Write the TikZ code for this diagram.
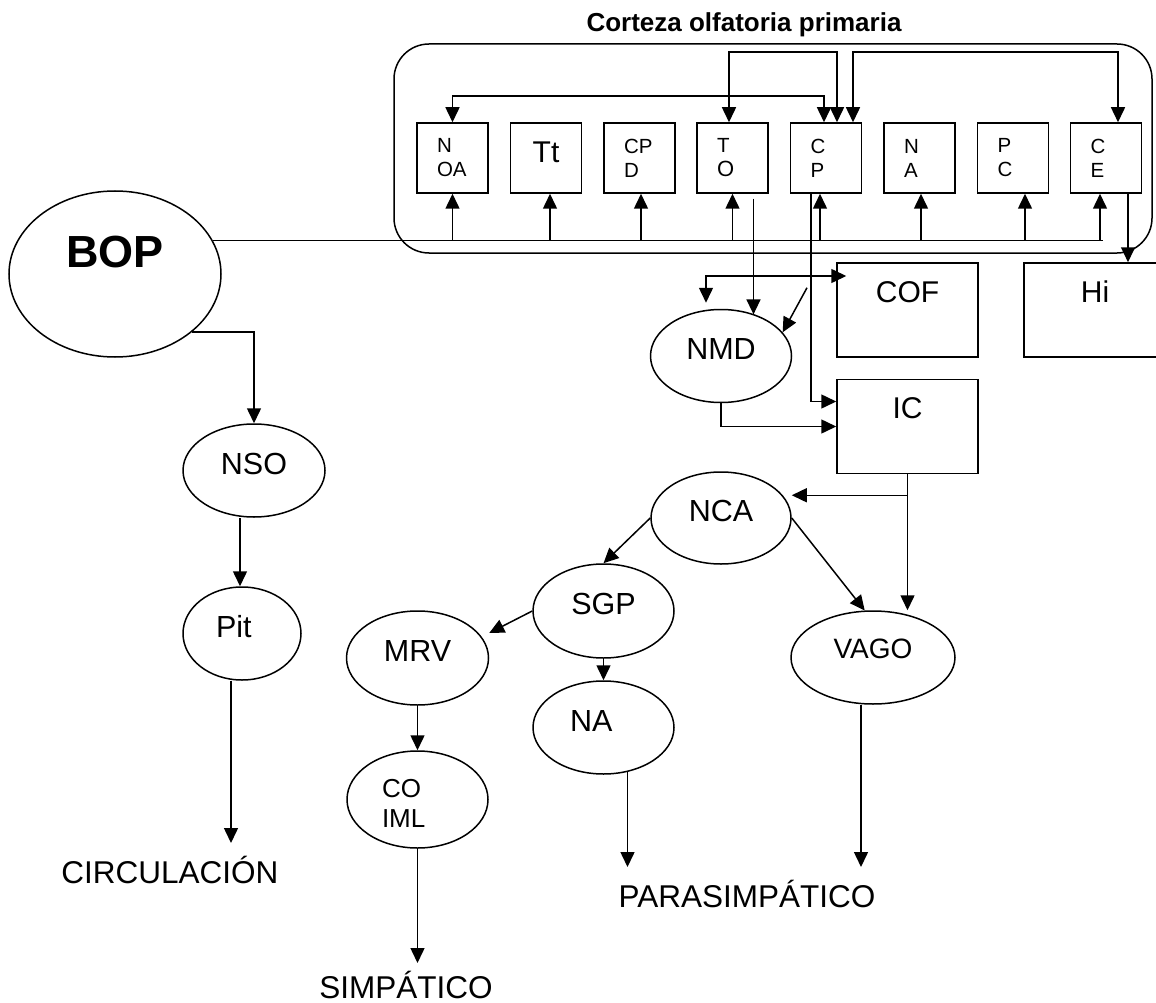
\documentclass[tikz,border=0pt]{standalone}
\usepackage{fontspec}
\setmainfont{Liberation Sans}
\usetikzlibrary{shapes.geometric,arrows.meta}
\tikzset{
  arr/.style={-{Triangle[length=15pt,width=14pt]}},
  dbl/.style={{Triangle[length=15pt,width=14pt]}-{Triangle[length=15pt,width=14pt]}},
  cell/.style={draw,minimum height=70pt,inner ysep=0pt,inner xsep=20pt,text width=31pt,align=left,font=\fontsize{20.5}{24}\selectfont},
  bigbox/.style={draw,minimum width=141pt,inner sep=0pt,text height=39pt,text depth=55pt,font=\fontsize{30}{36}\selectfont},
  oval/.style={draw,ellipse,inner sep=0pt,minimum width=141pt,minimum height=93pt,text height=21.5pt,text depth=14.5pt,font=\fontsize{30.5}{36}\selectfont},
  endlabel/.style={inner sep=0pt,outer ysep=18pt,text height=22pt,text depth=0pt,anchor=base,font=\fontsize{31.5}{38}\selectfont}
}
\begin{document}
\begin{tikzpicture}[x=1pt,y=-1pt,line width=1.5pt]
    \path[use as bounding box] (0,0) rectangle (1156,1003);
    \clip (0,0) rectangle (1156,1003);
    \node[font=\fontsize{26}{31}\selectfont\bfseries,anchor=base] (title) at (744,32) {Corteza olfatoria primaria};
    \node[draw,rounded corners=35pt,minimum width=758pt,minimum height=209pt] (cortex) at (773,148.5) {};
    \node[cell] (noa) at (452.5,158) {N\\OA};
    \node[cell,align=center,font=\fontsize{30}{36}\selectfont,text height=40pt,text depth=30pt] (tt) at (546,158) {Tt};
    \node[cell] (cpd) at (639.5,158) {CP\\D};
    \node[cell] (tob) at (732.5,158) {T\\{\fontsize{22}{24}\selectfont O}};
    \node[cell] (cpb) at (826,158) {C\\P};
    \node[cell] (nab) at (919.5,158) {N\\A};
    \node[cell] (pcb) at (1013,158) {P\\C};
    \node[cell] (ceb) at (1106,158) {C\\E};

    \node[oval,font=\fontsize{45}{54}\selectfont\bfseries,text height=34pt,text depth=48pt,minimum width=212pt,minimum height=166pt] (bop) at (115,274) {BOP};
    \node[bigbox] (cof) at (907.5,310) {COF};
    \node[bigbox,minimum width=142pt] (hi) at (1095,310) {Hi};
    \node[bigbox] (ic) at (907.5,426.5) {IC};
    \node[oval] (nmd) at (721,356) {NMD};
    \node[oval,minimum width=142pt] (nso) at (254,470.5) {NSO};
    \node[oval,minimum width=118pt,text width=52pt,align=left] (pit) at (242,633.5) {Pit};
    \node[oval,minimum width=140pt,minimum height=92pt] (nca) at (721,518) {NCA};
    \node[oval,minimum height=94pt] (sgp) at (603.5,611) {SGP};
    \node[oval,minimum width=142pt,minimum height=94pt] (mrv) at (417.5,658) {MRV};
    \node[oval,text width=67pt,align=left] (na) at (603.5,727.5) {NA};
    \node[oval,minimum height=97pt,text width=71pt,align=left,font=\fontsize{26}{30}\selectfont,text height=19pt,text depth=24pt] (coiml) at (417.5,799.5) {CO\\IML};
    \node[oval,minimum width=164pt,font=\fontsize{28}{34}\selectfont,text height=20pt,text depth=19pt] (vago) at (873,657.5) {VAGO};

    \node[endlabel] (circ) at (170,883) {CIRCULACIÓN};
    \node[endlabel,outer ysep=13pt] (simp) at (406,998) {SIMPÁTICO};
    \node[endlabel] (para) at (747,907) {PARASIMPÁTICO};

    \draw (bop.19) -- ++(890,0) coordinate (trunk);
    \foreach \b/\dx in {noa/0,tt/4,cpd/1.5,tob/0,cpb/-6,nab/1.5,pcb/12,ceb/-6}
        \draw[arr] (\b.south |- trunk) ++(\dx,0) coordinate (u) -- (u |- \b.south);
    \draw[dbl] (noa.north) -- ++(0,-26) -| ([xshift=-2pt]cpb.north);
    \draw[dbl] ([xshift=-3.5pt]tob.north) -- ++(0,-70) -| ([xshift=11pt]cpb.north);
    \draw[dbl] ([xshift=27pt]cpb.north) -- ++(0,-70) -| ([xshift=12pt]ceb.north);

    \draw[arr] ([xshift=22pt]ceb.south) coordinate (e1) -- (e1 |- hi.north);
    \draw[arr] ([xshift=21pt,yshift=-5pt]tob.south) coordinate (t1) -- (t1 |- nmd.51);
    \draw[arr] ([xshift=-15pt]cpb.south) |- ([yshift=25pt]ic.west);
    \draw[arr] ([xshift=-19pt,yshift=-94pt]cpb.south) -- (nmd.21);
    \draw[dbl] ([xshift=-15pt,yshift=6pt]nmd.north) |- ([xshift=10pt,yshift=34pt]cof.west);
    \draw[arr] (nmd.south) |- (ic.west);

    \draw[arr] (bop.-37) -| (nso.north);
    \draw[arr] ([xshift=-14pt]nso.south) coordinate (n1) -- (n1 |- pit.north);
    \draw[arr] ([xshift=-11pt]pit.south) coordinate (p1) -- (p1 |- circ.north);

    \draw[arr] (ic.south) coordinate (i1) -- (i1 |- vago.north);
    \draw[arr] ([yshift=-21pt]ic.south) coordinate (i2) -- (i2 -| nca.east);
    \draw[arr] (nca.west) -- (sgp.north);
    \draw[arr] (nca.east) -- (vago.100);
    \draw[arr] (sgp.west) -- ([yshift=25pt]mrv.east);
    \draw[arr] (sgp.south) -- (na.north);
    \draw[arr] (mrv.south) -- (coiml.north);
    \draw[arr] (coiml.south) -- (coiml.south |- simp.north);
    \draw[arr] ([xshift=24pt,yshift=3pt]na.south) coordinate (a1) -- (a1 |- para.north);
    \draw[arr] ([xshift=-12pt]vago.south) coordinate (v1) -- (v1 |- para.north);
\end{tikzpicture}
\end{document}
